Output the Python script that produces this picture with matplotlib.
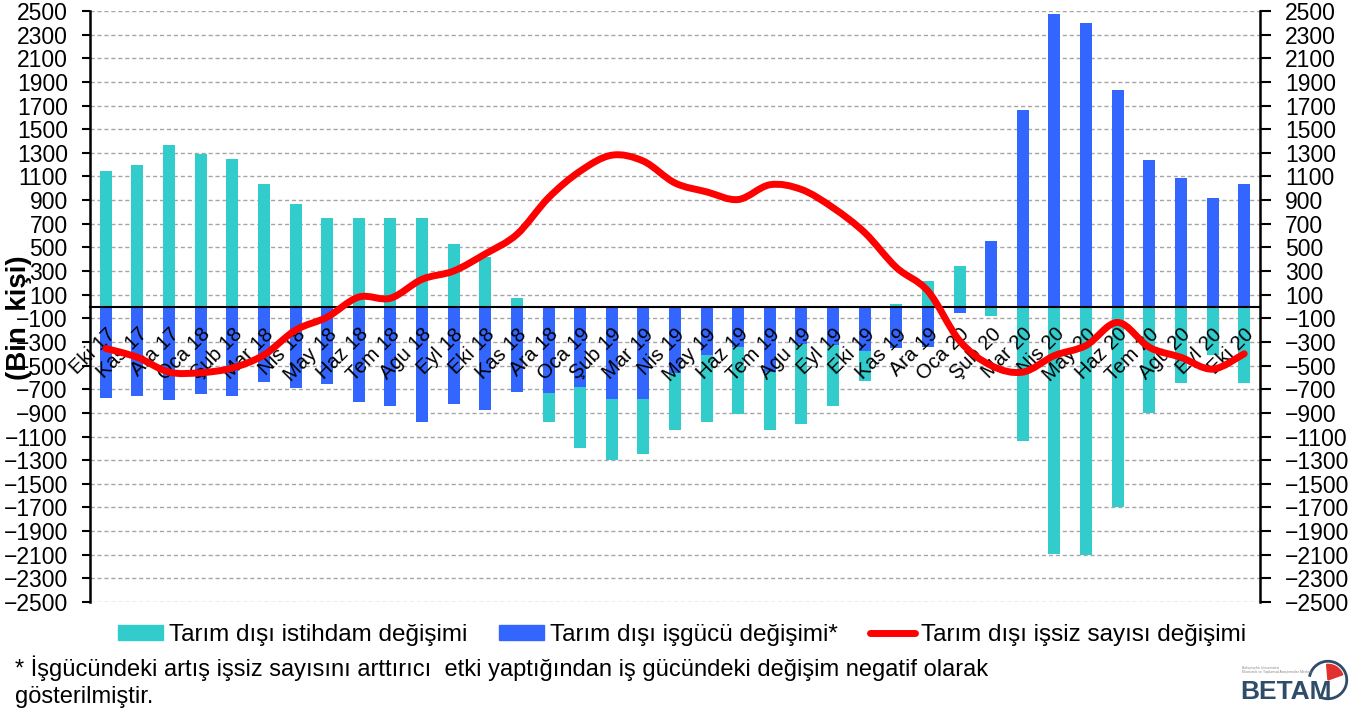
import numpy as np
import matplotlib as mpl
mpl.use('Agg')
import matplotlib.pyplot as plt
from matplotlib.path import Path
from matplotlib.patches import PathPatch, Patch, Arc, Wedge
from matplotlib.lines import Line2D

plt.rcParams['font.family'] = ['Liberation Sans', 'DejaVu Sans']

# data (bin kisi)
months = ['Eki 17', 'Kas 17', 'Ara 17', 'Oca 18', 'Şub 18', 'Mar 18', 'Nis 18',
          'May 18', 'Haz 18', 'Tem 18', 'Agu 18', 'Eyl 18', 'Eki 18', 'Kas 18',
          'Ara 18', 'Oca 19', 'Şub 19', 'Mar 19', 'Nis 19', 'May 19', 'Haz 19',
          'Tem 19', 'Agu 19', 'Eyl 19', 'Eki 19', 'Kas 19', 'Ara 19', 'Oca 20',
          'Şub 20', 'Mar 20', 'Nis 20', 'May 20', 'Haz 20', 'Tem 20', 'Agu 20',
          'Eyl 20', 'Eki 20']
istihdam = [1150, 1200, 1370, 1290, 1250, 1035, 865, 750, 750, 750, 750, 530,
            415, 75, -250, -515, -520, -465, -485, -570, -565, -490, -680,
            -520, -250, 20, 215, 340, -80, -1135, -2090, -2105, -1700, -905,
            -650, -410, -650]
isgucu = [-775, -760, -790, -740, -760, -640, -690, -655, -808, -840, -975,
          -828, -875, -725, -730, -680, -780, -780, -560, -410, -345, -555,
          -318, -325, -380, -355, -346, -58, 555, 1660, 2478, 2395, 1828, 1240,
          1088, 920, 1038]
issiz = [-355, -430, -555, -560, -520, -410, -200, -90, 80, 70, 230, 300, 445,
         610, 920, 1145, 1280, 1230, 1045, 970, 905, 1030, 990, 835, 625, 330,
         130, -290, -500, -555, -415, -330, -135, -345, -430, -530, -400]
yticks = list(range(-2500, 2501, 200))

TEAL = '#33CCCC'
BLUE = '#3366FF'
RED = '#FF0000'


def smooth_path(xs, ys):
    # excel-like smoothed line (catmull-rom as bezier segments)
    n = len(xs)
    verts = [(xs[0], ys[0])]
    codes = [Path.MOVETO]
    for i in range(n - 1):
        x0, y0 = (xs[i - 1], ys[i - 1]) if i > 0 else (xs[i], ys[i])
        x3, y3 = (xs[i + 2], ys[i + 2]) if i + 2 < n else (xs[i + 1], ys[i + 1])
        c1 = (xs[i] + (xs[i + 1] - x0) / 6.0, ys[i] + (ys[i + 1] - y0) / 6.0)
        c2 = (xs[i + 1] - (x3 - xs[i]) / 6.0, ys[i + 1] - (y3 - ys[i]) / 6.0)
        verts += [c1, c2, (xs[i + 1], ys[i + 1])]
        codes += [Path.CURVE4] * 3
    return Path(verts, codes)


fig = plt.figure(figsize=(13.59, 7.15), dpi=100)
ax = fig.add_axes([90 / 1359, 1 - 602 / 715, 1170 / 1359, 591 / 715])

x = np.arange(len(months))
ist = np.array(istihdam, dtype=float)
isg = np.array(isgucu, dtype=float)
same = np.sign(ist) == np.sign(isg)

ax.bar(x, isg, width=0.38, color=BLUE, zorder=2)
ax.bar(x, ist, width=0.38, bottom=np.where(same, isg, 0), color=TEAL, zorder=2)
ax.add_patch(PathPatch(smooth_path(x, issiz), fill=False, edgecolor=RED,
                       lw=5, capstyle='round', joinstyle='round', zorder=4))

ax.set_xlim(-0.5, len(months) - 0.5)
ax.set_ylim(-2500, 2500)
ax.set_yticks(yticks)
ax.yaxis.grid(True, color='#a6a6a6', linestyle=(0, (3, 2)), lw=1)
ax.set_axisbelow(True)
ax.xaxis.set_zorder(3.5)
ax.tick_params(axis='y', direction='out', length=6, width=1.5, pad=10,
               labelsize=16.5)

ax.spines['top'].set_visible(False)
ax.spines['right'].set_visible(False)
ax.spines['left'].set_linewidth(1.8)
ax.spines['bottom'].set_position(('data', 0))
ax.spines['bottom'].set_linewidth(1.5)
ax.spines['bottom'].set_zorder(3)

ax.set_xticks(x)
ax.set_xticklabels(months, rotation=45, ha='right', va='top',
                   rotation_mode='anchor', fontsize=14.5)
ax.tick_params(axis='x', length=0, pad=13)

ax2 = ax.twinx()
ax2.set_ylim(-2500, 2500)
ax2.set_yticks(yticks)
ax2.tick_params(axis='y', direction='out', length=8, width=1.5, pad=10,
                labelsize=16.5)
for s in ['top', 'bottom', 'left']:
    ax2.spines[s].set_visible(False)
ax2.spines['right'].set_linewidth(1.8)

fig.text(19 / 1359, 1 - 318 / 715, '(Bin  kişi)', rotation=90, ha='center',
         va='center', fontsize=20, fontweight='bold')

handles = [Patch(color=TEAL), Patch(color=BLUE),
           Line2D([], [], color=RED, lw=5, solid_capstyle='round')]
labels = ['Tarım dışı istihdam değişimi', 'Tarım dışı işgücü değişimi*',
          'Tarım dışı işsiz sayısı değişimi']
fig.legend(handles, labels, loc='center', bbox_to_anchor=(0.502, 1 - 635 / 715),
           ncol=3, frameon=False, fontsize=17.5, handlelength=1.85,
           handleheight=0.6, handletextpad=0.25, columnspacing=1.3)

fig.text(15 / 1359, 1 - 668 / 715,
         '* İşgücündeki artış işsiz sayısını arttırıcı  etki yaptığından iş '
         'gücündeki değişim negatif olarak', fontsize=17, va='center')
fig.text(15 / 1359, 1 - 697 / 715, 'gösterilmiştir.', fontsize=17, va='center')

# BETAM logo
fig.text(1240 / 1359, 1 - 692 / 715, 'BETAM', fontsize=19, color='#2f4c68',
         va='center', ha='left', fontweight='bold')
fig.text(1242 / 1359, 1 - 670 / 715, 'Bahçeşehir Üniversitesi\nEkonomik ve Toplumsal Araştırmalar Merkezi',
         fontsize=2.5, color='#8a8a8a', va='center', ha='left')
lax = fig.add_axes([1300 / 1359, 1 - 705 / 715, 56 / 1359, 50 / 715])
lax.set_xlim(-1.6, 1.6)
lax.set_ylim(-1.6, 1.6)
lax.set_aspect('equal')
lax.axis('off')
lax.add_patch(Arc((0, 0), 2.4, 2.4, theta1=-110, theta2=170, color='#2f4c68', lw=2))
lax.add_patch(Wedge((0, 0), 1.0, 20, 95, color='#e03030'))

fig.savefig('out.png', dpi=100)
